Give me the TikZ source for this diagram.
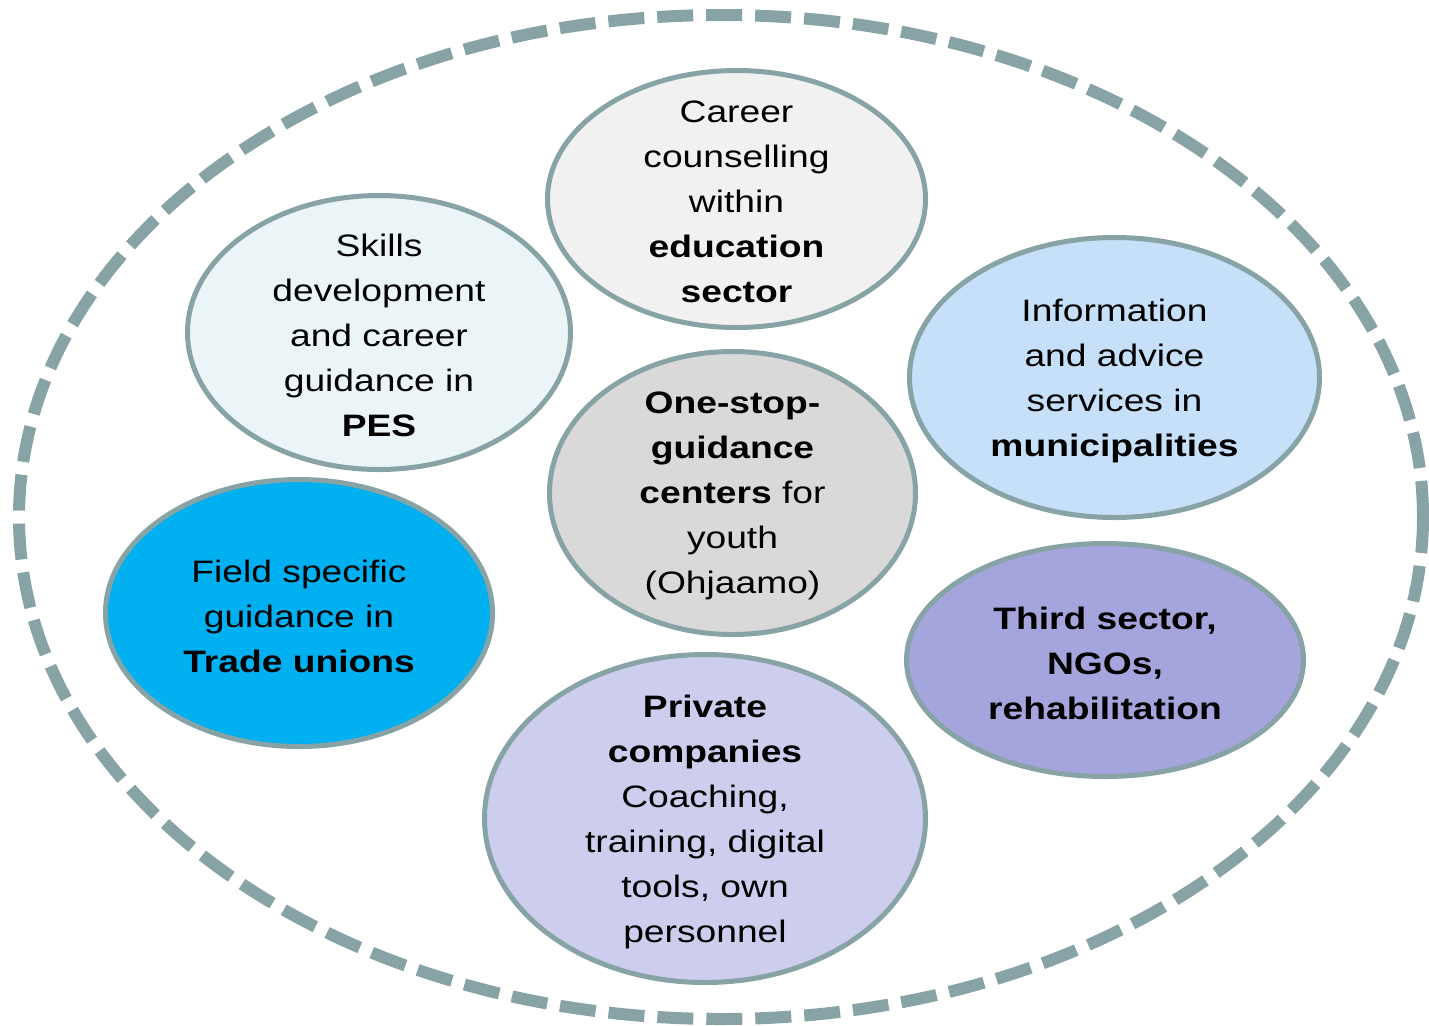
\documentclass[tikz,border=0pt]{standalone}
\usepackage{fontspec}
\usepackage{xcolor}
\usepackage{tikz}
\usetikzlibrary{shapes.geometric}
\newfontfamily\bubblefont{Liberation Sans}[FakeStretch=1.2]
\definecolor{rimgray}{HTML}{88A3A5}
\definecolor{careerfill}{HTML}{F1F1F1}
\definecolor{skillsfill}{HTML}{EBF5F7}
\definecolor{infofill}{HTML}{C5E0F8}
\definecolor{onestopfill}{HTML}{D9D9D9}
\definecolor{fieldfill}{HTML}{00B0F0}
\definecolor{thirdfill}{HTML}{A5A5DE}
\definecolor{privatefill}{HTML}{CDCDEE}
\tikzset{bubble/.style={ellipse,draw=rimgray,line width=2.5pt,inner sep=0pt},
         bubble text/.style={align=center,inner sep=0pt,yshift=-1.5pt,font=\bubblefont\fontsize{15.5}{22.5}\selectfont},}

\begin{document}
\begin{tikzpicture}[x=0.5pt,y=-0.5pt]
 \useasboundingbox (0,0) rectangle (1429,1025);

 % outer dashed ring
 \draw[rimgray,line width=6pt,dash pattern=on 18pt off 6.5pt] (721,517) ellipse [x radius=702, y radius=502];

 \node[bubble,fill=careerfill,minimum width=189pt,minimum height=128.5pt] (career) at (736.5,199) {};
 \node[bubble,fill=skillsfill,minimum width=191.5pt,minimum height=137pt] (skills) at (379,332.5) {};
 \node[bubble,fill=infofill,minimum width=205pt,minimum height=140pt] (info) at (1114.5,377.5) {};
 \node[bubble,fill=onestopfill,minimum width=183pt,minimum height=141.5pt] (onestop) at (732.5,493) {};
 \node[bubble,fill=fieldfill,minimum width=193.5pt,minimum height=133.5pt] (field) at (299,613) {};
 \node[bubble,fill=thirdfill,minimum width=198.5pt,minimum height=116.5pt] (third) at (1105,660) {};
 \node[bubble,fill=privatefill,minimum width=220.5pt,minimum height=164pt] (private) at (705,818.5) {};

 \node[bubble text] (career text) at (career) {Career\\counselling\\within\\\textbf{education}\\\textbf{sector}};
 \node[bubble text] (skills text) at (skills) {Skills\\development\\and career\\guidance in\\\textbf{PES}};
 \node[bubble text] (info text) at (info) {Information\\and advice\\services in\\\textbf{municipalities}};
 \node[bubble text] (onestop text) at (onestop) {\textbf{One-stop-}\\\textbf{guidance}\\\textbf{centers} for\\youth\\(Ohjaamo)};
 \node[bubble text] (field text) at (field) {Field specific\\guidance in\\\textbf{Trade unions}};
 \node[bubble text] (third text) at (third) {\textbf{Third sector,}\\\textbf{NGOs,}\\\textbf{rehabilitation}};
 \node[bubble text] (private text) at (private) {\textbf{Private}\\\textbf{companies}\\Coaching,\\training, digital\\tools, own\\personnel};
\end{tikzpicture}
\end{document}
